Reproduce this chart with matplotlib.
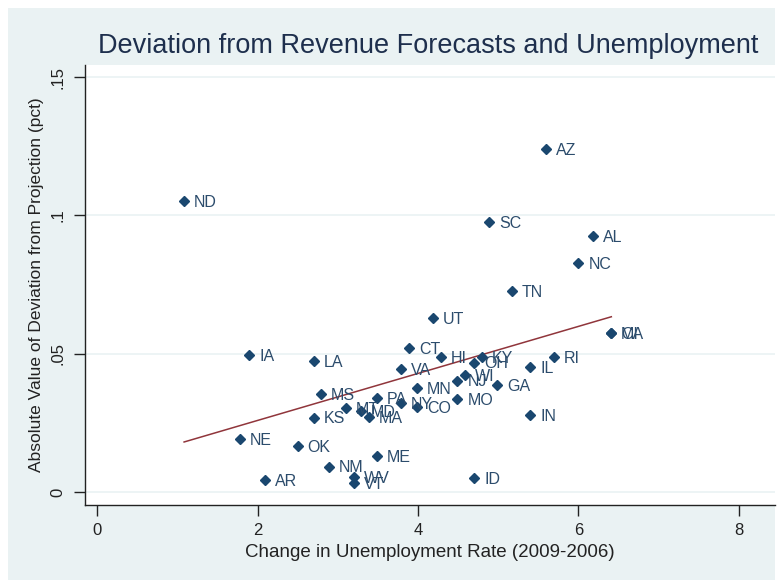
import numpy as np
import matplotlib
matplotlib.use("Agg")
import matplotlib.pyplot as plt
from matplotlib.patches import Rectangle

# state codes, change in unemployment rate, abs deviation from projection
states = ["ND", "AZ", "SC", "AL", "NC", "TN", "UT", "CT", "HI", "KY",
          "OH", "IL", "RI", "MI", "CA", "WI", "NJ", "GA", "MO", "IN",
          "ID", "MN", "CO", "NY", "PA", "VA", "MD", "MT", "MA", "MS",
          "KS", "IA", "LA", "NE", "OK", "NM", "ME", "AR", "WV", "VT"]
unemp_change = [1.085, 5.59, 4.89, 6.18, 6.00, 5.17, 4.19, 3.89, 4.29, 4.80,
                4.70, 5.40, 5.69, 6.40, 6.41, 4.59, 4.49, 4.99, 4.49, 5.40,
                4.70, 3.99, 3.99, 3.79, 3.49, 3.79, 3.29, 3.10, 3.39, 2.79,
                2.70, 1.90, 2.70, 1.78, 2.50, 2.89, 3.49, 2.09, 3.20, 3.20]
deviation = [0.1052, 0.1240, 0.0976, 0.0926, 0.0828, 0.0727, 0.0629, 0.0521, 0.0488, 0.0487,
             0.0468, 0.0453, 0.0487, 0.0576, 0.0576, 0.0423, 0.0403, 0.0387, 0.0336, 0.0278,
             0.0050, 0.0377, 0.0306, 0.0323, 0.0339, 0.0444, 0.0294, 0.0303, 0.0272, 0.0354,
             0.0269, 0.0495, 0.0475, 0.0191, 0.0166, 0.0092, 0.0130, 0.0043, 0.0055, 0.0031]

x_ticks = [0, 2, 4, 6, 8]
y_ticks = [0, 0.05, 0.1, 0.15]
y_ticklabels = ["0", ".05", ".1", ".15"]

navy = "#1a476f"
label_col = "#2c4c6c"
maroon = "#90353b"
bg = "#eaf2f3"

plt.rcParams["font.family"] = ["Liberation Sans", "DejaVu Sans"]

fig = plt.figure(figsize=(7.84, 5.8), dpi=100, facecolor="white")
# graph region (stata style), slightly cropped at right
fig.patches.append(Rectangle((8 / 784, 0), (775 - 8) / 784, 1 - 8 / 580,
                             transform=fig.transFigure, facecolor=bg,
                             edgecolor="none", zorder=-10))

ax = fig.add_axes([85 / 784, 1 - 505 / 580, (775 - 85) / 784, (505 - 65) / 580])
ax.set_facecolor("white")

x = np.array(unemp_change)
y = np.array(deviation)

# linear fit line over the data range
b, a = np.polyfit(x, y, 1)
xs = np.array([x.min(), x.max()])
ax.plot(xs, a + b * xs, color=maroon, lw=1.1, zorder=2)

ax.plot(x, y, "D", color=navy, markersize=5, zorder=3)
for s, xi, yi in zip(states, x, y):
    ax.annotate(s, (xi, yi), xytext=(7.2, -1), textcoords="offset points",
                va="center", ha="left", fontsize=11.5, color=label_col, zorder=4)

ax.set_xlim(-0.15, 8.45)
ax.set_ylim(-0.0047, 0.1544)
ax.set_xticks(x_ticks)
ax.set_yticks(y_ticks)
ax.set_yticklabels(y_ticklabels)
ax.tick_params(axis="both", direction="out", length=8, width=1, color="#222222",
               labelsize=12, labelcolor="#222222", pad=5)
ax.tick_params(axis="y", labelrotation=90, pad=6)
for lbl in ax.get_yticklabels():
    lbl.set_va("center")

ax.grid(axis="y", color=bg, lw=1.2)
ax.set_axisbelow(True)
for side in ["top", "right"]:
    ax.spines[side].set_visible(False)
for side in ["left", "bottom"]:
    ax.spines[side].set_color("#222222")
    ax.spines[side].set_linewidth(1)

ax.set_xlabel("Change in Unemployment Rate (2009-2006)", fontsize=13.5,
              color="#222222", labelpad=4)
ax.set_ylabel("Absolute Value of Deviation from Projection (pct)", fontsize=12.5,
              color="#222222", labelpad=5)
fig.text(428 / 784, 1 - 46 / 580, "Deviation from Revenue Forecasts and Unemployment",
         ha="center", va="center", fontsize=19.5, color="#1e2f4d")

fig.savefig("out.png", dpi=100, facecolor="white")
